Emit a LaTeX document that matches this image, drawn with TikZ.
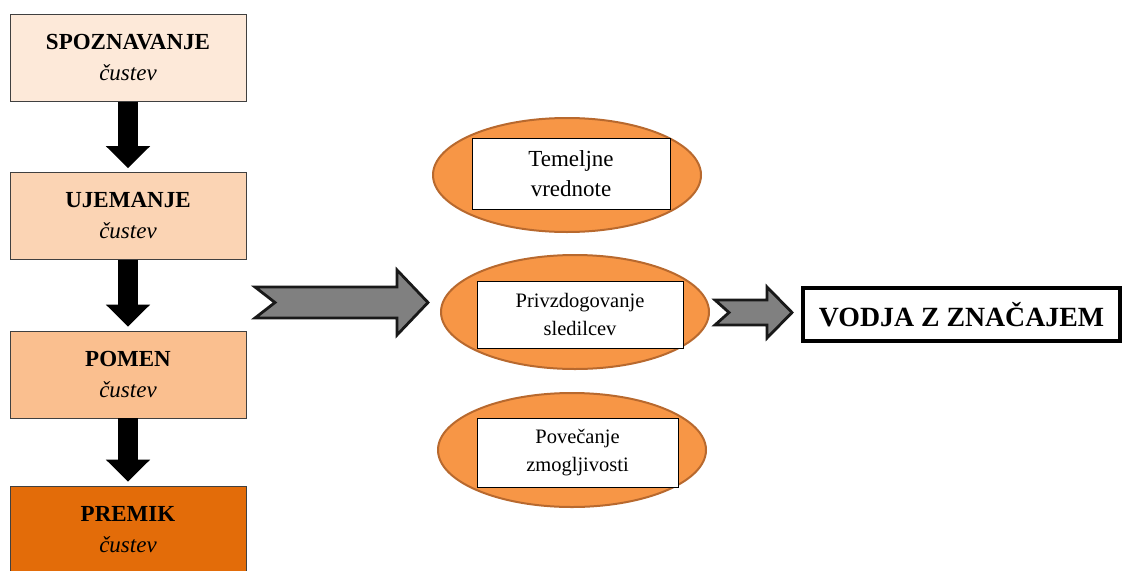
\documentclass[tikz,border=0pt]{standalone}
\usepackage{fontspec}
\setmainfont{Liberation Serif}
\usetikzlibrary{shapes.geometric,arrows.meta}
\definecolor{stageA}{HTML}{FDE9D9}
\definecolor{stageB}{HTML}{FBD4B4}
\definecolor{stageC}{HTML}{FABF8F}
\definecolor{stageD}{HTML}{E36C09}
\definecolor{ovalfill}{HTML}{F79646}
\definecolor{ovaldraw}{HTML}{B8692E}
\definecolor{arrowgray}{HTML}{808080}
\begin{document}
\begin{tikzpicture}[x=1pt,y=-1pt,
  stage/.style={draw=black!75, line width=0.8pt, minimum width=236pt, minimum height=87pt,
    align=center, inner sep=0pt, font=\fontsize{23}{31}\selectfont},
  down/.style={line width=20pt, -{Triangle[width=43pt,length=22pt]}, shorten >=4pt},
  oval/.style={ellipse, fill=ovalfill, draw=ovaldraw, line width=2pt,
    minimum width=268pt, minimum height=114pt, inner sep=0pt},
  card/.style={draw, fill=white, line width=0.9pt, align=center, inner sep=0pt,
    font=\fontsize{20.5}{28}\selectfont},
  chevron/.style={fill=arrowgray, draw=black!90, line width=2.8pt, line join=miter},
  goal/.style={draw, line width=4pt, fill=white, minimum width=317pt, minimum height=53pt,
    inner sep=0pt, font=\bfseries\fontsize{27.8}{30}\selectfont}
]
\useasboundingbox (0,0) rectangle (1123,570);

% emotional intelligence stages
\node[stage, fill=stageA] (s1) at (128,58)    {\textbf{SPOZNAVANJE}\\\textit{čustev}};
\node[stage, fill=stageB] (s2) at (128,216)   {\textbf{UJEMANJE}\\\textit{čustev}};
\node[stage, fill=stageC] (s3) at (128,374.5) {\textbf{POMEN}\\\textit{čustev}};
\node[stage, fill=stageD] (s4) at (128,529.5) {\textbf{PREMIK}\\\textit{čustev}};

\draw[down] (s1.south) -- (s2.north);
\draw[down] (s2.south) -- (s3.north);
\draw[down] (s3.south) -- (s4.north);

% outcomes
\node[oval] (o1) at (567,175) {};
\node[card, minimum width=198pt, minimum height=71pt, font=\fontsize{23}{30}\selectfont]
  (c1) at (571,173.5) {Temeljne\\vrednote};
\node[oval] (o2) at (575,312) {};
\node[card, minimum width=206pt, minimum height=67pt] (c2) at (580,314.5) {Privzdogovanje\\sledilcev};
\node[oval] (o3) at (572,450) {};
\node[card, minimum width=201pt, minimum height=69pt] (c3) at (577.5,452.5) {Povečanje\\zmogljivosti};

% result
\node[goal] (g) at (961.5,314.5) {VODJA Z ZNAČAJEM};

% notched block arrows
\draw[chevron] (255,287) -- (397,287) -- (397,270) -- (428,302.5) -- (397,335)
  -- (397,318) -- (255,318) -- (275,302.5) -- cycle;
\draw[chevron] (715,300) -- (767,300) -- (767,287) -- (792,312.5) -- (767,338)
  -- (767,325) -- (715,325) -- (729,312.5) -- cycle;
\end{tikzpicture}
\end{document}
